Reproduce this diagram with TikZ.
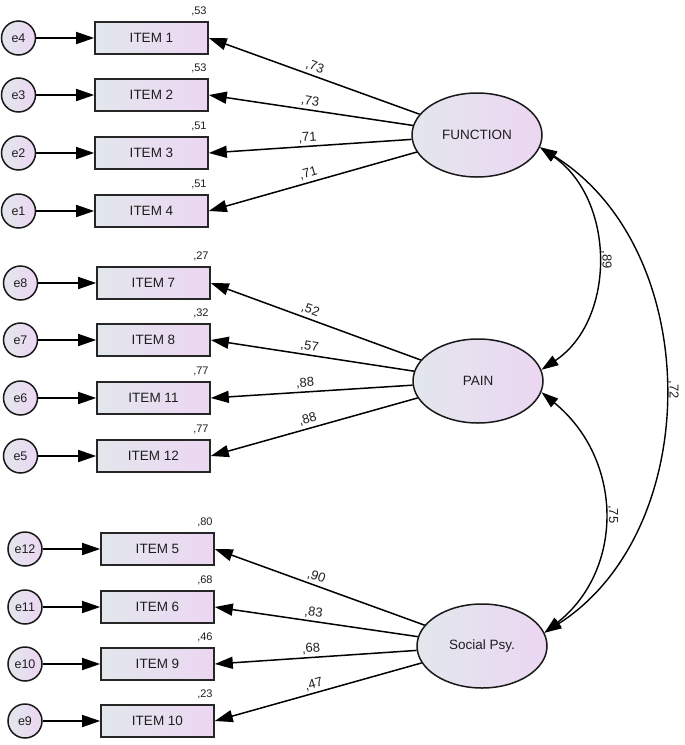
\documentclass[tikz,border=0pt]{standalone}
\usepackage{fontspec}
\setmainfont{Liberation Sans}
\usetikzlibrary{shapes.geometric,arrows.meta}
\definecolor{gL}{RGB}{226,231,237}
\definecolor{gR}{RGB}{236,214,242}
\definecolor{txt}{RGB}{30,30,30}
\begin{document}
\begin{tikzpicture}[x=1pt,y=-1pt,
  obs/.style={rectangle, draw=black!85, line width=1.6pt, minimum width=113pt, minimum height=32pt, inner sep=0pt, left color=gL, right color=gR, text=txt, font=\fontsize{13.5}{15}\selectfont},
  lat/.style={ellipse, draw=black!90, line width=1.5pt, minimum width=130pt, minimum height=84pt, inner sep=0pt, left color=gL, right color=gR, text=txt, font=\fontsize{13.5}{15}\selectfont},
  err/.style={circle, draw=black!90, line width=1.5pt, minimum size=34pt, inner sep=0pt, left color=gL, right color=gR, text=txt, font=\fontsize{12.5}{14}\selectfont},
  reg/.style={line width=1.5pt, -{Triangle[length=18pt,width=12pt]}},
  cov/.style={line width=1.4pt, {Triangle[length=17pt,width=11pt]}-{Triangle[length=17pt,width=11pt]}},
  lbl/.style={sloped, above=2pt, inner sep=0.5pt, text=txt, font=\fontsize{13}{15}\selectfont},
  smc/.style={anchor=south east, inner sep=1pt, text=txt, font=\fontsize{11}{13}\selectfont},
  clbl/.style={rotate=-90, anchor=south, inner sep=3pt, text=txt, font=\fontsize{13}{15}\selectfont}
]
\useasboundingbox (0,0) rectangle (685,745);

% latent variables
\node[lat] (F) at (477,135) {FUNCTION};
\node[lat] (P) at (478,381) {PAIN};
\node[lat] (S) at (482,646) {Social Psy.};

% group 1
\node[obs] (i1) at (151.5,38) {ITEM 1};
\node[obs] (i2) at (151.5,95) {ITEM 2};
\node[obs] (i3) at (151.5,153) {ITEM 3};
\node[obs] (i4) at (151.5,211) {ITEM 4};
\node[err] (e4) at (18.5,38) {e4};
\node[err] (e3) at (18.5,95) {e3};
\node[err] (e2) at (18.5,153) {e2};
\node[err] (e1) at (18.5,211) {e1};

% group 2
\node[obs] (i7) at (153.5,283) {ITEM 7};
\node[obs] (i8) at (153.5,340) {ITEM 8};
\node[obs] (i11) at (153.5,398) {ITEM 11};
\node[obs] (i12) at (153.5,456) {ITEM 12};
\node[err] (e8) at (20.5,283) {e8};
\node[err] (e7) at (20.5,340) {e7};
\node[err] (e6) at (20.5,398) {e6};
\node[err] (e5) at (20.5,456) {e5};

% group 3
\node[obs] (i5) at (157.5,549) {ITEM 5};
\node[obs] (i6) at (157.5,607) {ITEM 6};
\node[obs] (i9) at (157.5,664) {ITEM 9};
\node[obs] (i10) at (157.5,721) {ITEM 10};
\node[err] (e12) at (25,549) {e12};
\node[err] (e11) at (25,607) {e11};
\node[err] (e10) at (25,664) {e10};
\node[err] (e9) at (25,721) {e9};

% squared multiple correlations
\node[smc] (s1) at ([xshift=-1pt,yshift=4pt]i1.north east) {,53};
\node[smc] (s2) at ([xshift=-1pt,yshift=4pt]i2.north east) {,53};
\node[smc] (s3) at ([xshift=-1pt,yshift=4pt]i3.north east) {,51};
\node[smc] (s4) at ([xshift=-1pt,yshift=4pt]i4.north east) {,51};
\node[smc] (s7) at ([xshift=-1pt,yshift=4pt]i7.north east) {,27};
\node[smc] (s8) at ([xshift=-1pt,yshift=4pt]i8.north east) {,32};
\node[smc] (s11) at ([xshift=-1pt,yshift=4pt]i11.north east) {,77};
\node[smc] (s12) at ([xshift=-1pt,yshift=4pt]i12.north east) {,77};
\node[smc] (s5) at ([xshift=-1pt,yshift=4pt]i5.north east) {,80};
\node[smc] (s6) at ([xshift=-1pt,yshift=4pt]i6.north east) {,68};
\node[smc] (s9) at ([xshift=-1pt,yshift=4pt]i9.north east) {,46};
\node[smc] (s10) at ([xshift=-1pt,yshift=4pt]i10.north east) {,23};

% error arrows
\foreach \e/\i in {e4/i1,e3/i2,e2/i3,e1/i4,e8/i7,e7/i8,e6/i11,e5/i12,e12/i5,e11/i6,e10/i9,e9/i10}
  \draw[reg] (\e) -- (\i);

% loadings
\draw[reg] (F) -- (i1.east) node[lbl, pos=0.51] {,73};
\draw[reg] (F) -- (i2.east) node[lbl, pos=0.51] {,73};
\draw[reg] (F) -- (i3.east) node[lbl, pos=0.51] {,71};
\draw[reg] (F) -- (i4.east) node[lbl, pos=0.51] {,71};
\draw[reg] (P) -- (i7.east) node[lbl, pos=0.54] {,52};
\draw[reg] (P) -- (i8.east) node[lbl, pos=0.52] {,57};
\draw[reg] (P) -- (i11.east) node[lbl, pos=0.53] {,88};
\draw[reg] (P) -- (i12.east) node[lbl, pos=0.52] {,88};
\draw[reg] (S) -- (i5.east) node[lbl, pos=0.53] {,90};
\draw[reg] (S) -- (i6.east) node[lbl, pos=0.52] {,83};
\draw[reg] (S) -- (i9.east) node[lbl, pos=0.52] {,68};
\draw[reg] (S) -- (i10.east) node[lbl, pos=0.51] {,47};

% covariances
\draw[cov] (F.-11) .. controls (616,200) and (616,320) .. (P.10) node[clbl, midway] {,89};
\draw[cov] (P.-10) .. controls (624,460) and (624,570) .. (S.12) node[clbl, midway] {,75};
\draw[cov] (F.-11) .. controls (705,250) and (705,530) .. (S.12) node[clbl, midway] {,72};
\end{tikzpicture}
\end{document}
